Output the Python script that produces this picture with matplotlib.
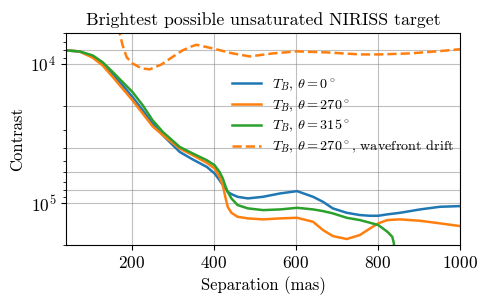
import matplotlib
matplotlib.use("Agg")
import matplotlib.pyplot as plt
import numpy as np

plt.rcParams['font.family'] = 'serif'
plt.rcParams['font.serif'] = ['cmr10']
plt.rcParams['mathtext.fontset'] = 'cm'
plt.rcParams['axes.formatter.use_mathtext'] = True
plt.rcParams['axes.unicode_minus'] = False

sep_blue = [40, 73, 105, 129, 154, 178, 202, 227, 251, 276, 317, 349, 383, 402, 414, 422, 429, 434, 443, 458, 483, 520, 562, 603, 642, 666, 690, 724, 756, 781, 801, 823, 854, 903, 951, 1000]
con_blue = [8.0e3, 8.14e3, 8.84e3, 9.97e3, 1.19e4, 1.426e4, 1.73e4, 2.154e4, 2.684e4, 3.255e4, 4.289e4, 4.862e4, 5.494e4, 6.126e4, 6.841e4, 7.43e4, 7.845e4, 8.298e4, 8.619e4, 9.012e4, 9.253e4, 9.012e4, 8.52e4, 8.204e4, 9.012e4, 9.788e4, 1.091e5, 1.174e5, 1.219e5, 1.233e5, 1.233e5, 1.205e5, 1.174e5, 1.11e5, 1.063e5, 1.051e5]

sep_orange = [40, 73, 105, 129, 154, 178, 202, 227, 251, 276, 317, 349, 383, 402, 414, 422, 429, 434, 443, 458, 483, 520, 562, 603, 642, 666, 690, 724, 756, 781, 801, 823, 854, 903, 951, 1000]
con_orange = [8.0e3, 8.14e3, 9.03e3, 1.025e4, 1.243e4, 1.506e4, 1.826e4, 2.275e4, 2.806e4, 3.255e4, 4.055e4, 4.529e4, 5.143e4, 5.641e4, 6.479e4, 7.43e4, 9.25e4, 1.063e5, 1.174e5, 1.254e5, 1.288e5, 1.309e5, 1.288e5, 1.275e5, 1.362e5, 1.561e5, 1.725e5, 1.812e5, 1.696e5, 1.519e5, 1.398e5, 1.324e5, 1.309e5, 1.34e5, 1.398e5, 1.462e5]

sep_green = [40, 73, 105, 129, 154, 178, 202, 227, 251, 276, 317, 349, 383, 402, 414, 422, 429, 434, 443, 458, 483, 520, 562, 603, 642, 666, 690, 724, 756, 781, 801, 823, 835, 839, 840]
con_green = [8.0e3, 8.14e3, 8.69e3, 9.71e3, 1.145e4, 1.351e4, 1.593e4, 1.984e4, 2.541e4, 3.083e4, 3.949e4, 4.404e4, 4.919e4, 5.342e4, 5.966e4, 6.651e4, 7.641e4, 8.298e4, 9.253e4, 1.033e5, 1.091e5, 1.123e5, 1.11e5, 1.081e5, 1.11e5, 1.141e5, 1.185e5, 1.275e5, 1.324e5, 1.385e5, 1.438e5, 1.606e5, 1.745e5, 1.95e5, 2.5e5]

sep_drift = [165, 171, 178, 188, 202, 224, 244, 273, 298, 324, 346, 358, 397, 446, 488, 544, 602, 675, 756, 805, 878, 944, 995, 1000]
con_drift = [5.4e3, 6.04e3, 7.37e3, 8.98e3, 9.92e3, 1.077e4, 1.095e4, 1.008e4, 8.98e3, 8.0e3, 7.49e3, 7.29e3, 7.74e3, 8.41e3, 8.84e3, 8.41e3, 8.13e3, 8.27e3, 8.55e3, 8.55e3, 8.41e3, 8.13e3, 7.87e3, 7.85e3]

labels = [r'$T_B$, $\theta = 0^\circ$', r'$T_B$, $\theta = 270^\circ$',
          r'$T_B$, $\theta = 315^\circ$', r'$T_B$, $\theta = 270^\circ$, wavefront drift']

fig = plt.figure(figsize=(4.91, 3.07), dpi=100)
ax = fig.add_axes([66/491, 1-245/307, 394/491, 212/307])

lw = 1.8
ax.plot(sep_blue, con_blue, color='C0', lw=lw, label=labels[0])
ax.plot(sep_orange, con_orange, color='C1', lw=lw, label=labels[1])
ax.plot(sep_green, con_green, color='C2', lw=lw, label=labels[2])
ax.plot(sep_drift, con_drift, color='C1', lw=lw, ls='--', label=labels[3])

ax.set_yscale('log')
ax.set_xlim(40, 1000)
ax.set_ylim(2e5, 6e3)
ax.set_xticks([200, 400, 600, 800, 1000])
ax.grid(True, which='major', color='gray', alpha=0.5, lw=0.8)
for v in [8e3, 2e4, 4e4, 6e4, 8e4]:
    ax.axhline(v, color='gray', alpha=0.5, lw=0.8, zorder=0)

ax.tick_params(labelsize=12.5)
ax.set_xlabel('Separation (mas)', fontsize=12)
ax.set_ylabel('Contrast', fontsize=12)
ax.set_title('Brightest possible unsaturated NIRISS target', fontsize=12.8)
ax.legend(loc='center left', bbox_to_anchor=(0.39, 0.61), frameon=False, fontsize=10.2,
          handlelength=2.0, labelspacing=0.3)

fig.savefig('out.png', dpi=100)
